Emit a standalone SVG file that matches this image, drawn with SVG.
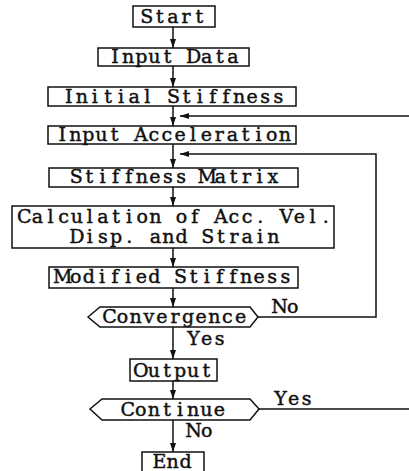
<svg xmlns="http://www.w3.org/2000/svg" width="409" height="471" viewBox="0 0 409 471">
<defs>
<marker id="ah" markerWidth="9" markerHeight="8" refX="9" refY="4" orient="auto" markerUnits="userSpaceOnUse">
<path d="M0,1 L9,4 L0,7 Z" fill="#111"/>
</marker>
<style>
.b{fill:#fff;stroke:#111;stroke-width:1.5}
.t,.l{font-family:"DejaVu Serif",serif;font-size:19px;fill:#111;text-anchor:middle;stroke:#111;stroke-width:0.45}
.c{fill:none;stroke:#111;stroke-width:1.5}
</style>
</defs>
<rect width="409" height="471" fill="#fff"/>
<g id="connectors">
<line class="c" x1="173" y1="27" x2="173" y2="48" marker-end="url(#ah)"/>
<line class="c" x1="173" y1="66" x2="173" y2="87" marker-end="url(#ah)"/>
<line class="c" x1="173" y1="106" x2="173" y2="126" marker-end="url(#ah)"/>
<line class="c" x1="173" y1="144" x2="173" y2="168" marker-end="url(#ah)"/>
<line class="c" x1="173" y1="187" x2="173" y2="206" marker-end="url(#ah)"/>
<line class="c" x1="173" y1="248" x2="173" y2="267" marker-end="url(#ah)"/>
<line class="c" x1="173" y1="288" x2="173" y2="307" marker-end="url(#ah)"/>
<line class="c" x1="173" y1="327" x2="173" y2="359" marker-end="url(#ah)"/>
<line class="c" x1="173" y1="381" x2="173" y2="399" marker-end="url(#ah)"/>
<line class="c" x1="173" y1="420" x2="173" y2="452" marker-end="url(#ah)"/>
<polyline class="c" points="409,116 180,116" marker-end="url(#ah)"/>
<polyline class="c" points="258,317 376,317 376,154 180,154" marker-end="url(#ah)"/>
<line class="c" x1="259" y1="409" x2="409" y2="409"/>
<text class="l" x="279.55 292.65" y="313">No</text>
<text class="l" x="193.55 206.65 219.75" y="345">Yes</text>
<text class="l" x="280.55 293.65 306.75" y="405">Yes</text>
<text class="l" x="193.55 206.65" y="437">No</text>
</g>
<g id="start"><rect class="b" x="133" y="6" width="82" height="21"/><text class="t" x="146.8 159.9 173 186.1 199.2" y="23">Start</text></g>
<g id="input-data"><rect class="b" x="98" y="48" width="151" height="18"/><text class="t" x="115.05 128.15 141.25 154.35 167.45 180.55 193.65 206.75 219.85 232.95" y="63">Input Data</text></g>
<g id="initial-stiffness"><rect class="b" x="48" y="87" width="248" height="19"/><text class="t" x="68.7 81.8 94.9 108 121.1 134.2 147.3 160.4 173.5 186.6 199.7 212.8 225.9 239 252.1 265.2 278.3" y="103">Initial Stiffness</text></g>
<g id="input-acceleration"><rect class="b" x="48" y="126" width="248" height="18"/><text class="t" x="62.15 75.25 88.35 101.45 114.55 127.65 140.75 153.85 166.95 180.05 193.15 206.25 219.35 232.45 245.55 258.65 271.75 284.85" y="141">Input Acceleration</text></g>
<g id="stiffness-matrix"><rect class="b" x="49" y="168" width="249" height="19"/><text class="t" x="76.25 89.35 102.45 115.55 128.65 141.75 154.85 167.95 181.05 194.15 207.25 220.35 233.45 246.55 259.65 272.75" y="183">Stiffness Matrix</text></g>
<g id="calculation"><rect class="b" x="12" y="206" width="322" height="42"/><text class="t" x="24.35 37.45 50.55 63.65 76.75 89.85 102.95 116.05 129.15 142.25 155.35 168.45 181.55 194.65 207.75 220.85 233.95 247.05 260.15 273.25 286.35 299.45 312.55 325.65" y="223">Calculation of Acc. Vel.</text><text class="t" x="76.75 89.85 102.95 116.05 129.15 142.25 155.35 168.45 181.55 194.65 207.75 220.85 233.95 247.05 260.15 273.25" y="243">Disp. and Strain</text></g>
<g id="modified-stiffness"><rect class="b" x="49" y="267" width="249" height="21"/><text class="t" x="62.65 75.75 88.85 101.95 115.05 128.15 141.25 154.35 167.45 180.55 193.65 206.75 219.85 232.95 246.05 259.15 272.25 285.35" y="283">Modified Stiffness</text></g>
<g id="convergence"><polygon class="b" points="88,317 100,307 250,307 258,317 250,327 100,327"/><text class="t" x="109.5 122.6 135.7 148.8 161.9 175 188.1 201.2 214.3 227.4 240.5" y="323">Convergence</text></g>
<g id="output"><rect class="b" x="130" y="359" width="87" height="22"/><text class="t" x="140.75 153.85 166.95 180.05 193.15 206.25" y="377">Output</text></g>
<g id="continue"><polygon class="b" points="90,409 102,399 250,399 259,409 250,420 102,420"/><text class="t" x="127.65 140.75 153.85 166.95 180.05 193.15 206.25 219.35" y="416">Continue</text></g>
<g id="end"><rect class="b" x="142" y="452" width="62" height="21"/><text class="t" x="159.4 172.5 185.6" y="468">End</text></g>
</svg>
